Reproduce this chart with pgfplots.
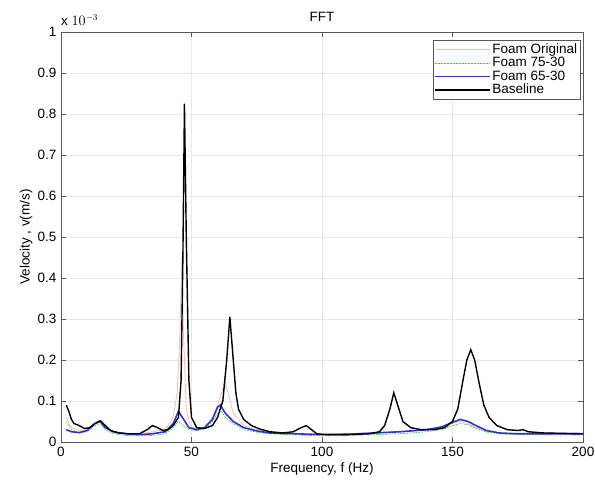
\documentclass[border=0pt]{standalone}
\usepackage{fontspec}
\setmainfont{Liberation Sans}
\usepackage{pgfplots}
\pgfplotsset{compat=1.18}
\definecolor{pinkc}{RGB}{245,190,190}
\definecolor{greenc}{RGB}{60,200,60}
\definecolor{bluec}{RGB}{50,50,200}
\begin{document}
\fontsize{13.5}{15}\selectfont
\begin{tikzpicture}
\begin{axis}[
  scale only axis, width=522pt, height=410pt,
  xmin=0, xmax=200, ymin=0, ymax=1,
  xtick={0,50,100,150,200},
  ytick={0,0.1,0.2,0.3,0.4,0.5,0.6,0.7,0.8,0.9,1},
  yticklabel style={/pgf/number format/fixed,/pgf/number format/precision=1},
  /pgf/number format/assume math mode=true,
  tick align=inside, tick pos=both,
  major tick length=5pt,
  grid=major, grid style={gray!18, line width=0.4pt},
  axis line style={gray!70!black},
  tick style={gray!70!black},
  title={FFT},
  xlabel={Frequency, f (Hz)}, ylabel={Velocity , v(m/s)},
  xlabel style={yshift=3pt},
  ylabel style={yshift=-4pt},
  legend pos=north east,
  legend style={font=\fontsize{13.5}{15}\selectfont, draw=gray!70!black, inner sep=1pt, row sep=-2pt, at={(0.995,0.98)}},
  legend cell align=left,
  legend image post style={xscale=3.2},
]
\addplot[pinkc, line width=0.8pt] coordinates {
(2,0.06)(4,0.035)(7,0.028)(10,0.03)(13,0.045)(15,0.05)(17,0.035)(20,0.025)(25,0.02)(30,0.02)(35,0.025)(40,0.03)(43,0.06)(44.5,0.12)(45.5,0.25)(46.3,0.45)(47,0.25)(48,0.08)(49.5,0.04)(52,0.03)(55,0.035)(58,0.06)(60,0.09)(61.5,0.12)(62.8,0.15)(64,0.12)(66,0.07)(70,0.04)(75,0.03)(80,0.025)(90,0.02)(100,0.018)(110,0.02)(120,0.022)(130,0.025)(140,0.03)(146,0.036)(150,0.045)(153,0.05)(156,0.045)(159,0.035)(163,0.026)(168,0.022)(175,0.02)(200,0.02)};
\addlegendentry{Foam Original}
\addplot[greenc, line width=0.6pt, dash pattern=on 2pt off 1pt] coordinates {
(2,0.05)(4,0.03)(7,0.022)(10,0.025)(13,0.04)(15,0.045)(17,0.03)(20,0.02)(25,0.016)(30,0.015)(35,0.016)(40,0.02)(43,0.035)(45,0.05)(47,0.04)(49,0.03)(52,0.028)(55,0.032)(58,0.05)(60,0.07)(61.5,0.075)(63,0.06)(66,0.045)(70,0.03)(75,0.024)(80,0.02)(90,0.017)(100,0.015)(110,0.016)(120,0.018)(130,0.02)(140,0.025)(146,0.03)(150,0.04)(153,0.045)(156,0.042)(159,0.033)(163,0.024)(168,0.02)(175,0.018)(200,0.017)};
\addlegendentry{Foam 75-30}
\addplot[bluec, line width=1.6pt] coordinates {
(2,0.03)(4,0.025)(7,0.023)(10,0.028)(13,0.045)(15,0.05)(17,0.035)(20,0.025)(25,0.02)(30,0.018)(35,0.02)(40,0.025)(43,0.045)(45,0.075)(47,0.055)(49,0.035)(52,0.03)(55,0.035)(58,0.055)(60,0.085)(61,0.09)(63,0.07)(66,0.05)(70,0.035)(75,0.027)(80,0.022)(90,0.02)(100,0.018)(110,0.019)(120,0.022)(130,0.025)(140,0.03)(146,0.037)(150,0.048)(153,0.055)(156,0.05)(159,0.04)(163,0.028)(168,0.022)(175,0.02)(200,0.02)};
\addlegendentry{Foam 65-30}
\addplot[black, line width=1.4pt] coordinates {
(2,0.09)(3,0.075)(4,0.055)(5,0.045)(7,0.04)(9,0.033)(11,0.035)(13,0.045)(15,0.052)(17,0.04)(19,0.028)(22,0.022)(26,0.02)(30,0.02)(33,0.03)(35,0.04)(37,0.035)(39,0.028)(41,0.03)(43,0.04)(45,0.06)(46,0.15)(46.7,0.45)(47.3,0.825)(48,0.5)(49,0.15)(50,0.06)(52,0.035)(55,0.033)(58,0.04)(60,0.06)(62,0.1)(63.5,0.2)(64.7,0.305)(66,0.2)(67,0.12)(68,0.08)(70,0.055)(73,0.04)(76,0.032)(80,0.025)(85,0.022)(89,0.025)(92,0.035)(94,0.04)(96,0.03)(98,0.02)(102,0.018)(110,0.018)(118,0.02)(122,0.025)(124,0.04)(126,0.08)(127.5,0.12)(129,0.09)(131,0.05)(134,0.035)(138,0.03)(143,0.03)(147,0.035)(150,0.05)(152,0.08)(154,0.15)(155.5,0.2)(157,0.225)(158.5,0.2)(160,0.15)(162,0.09)(164,0.06)(167,0.04)(171,0.03)(175,0.028)(177,0.03)(179,0.025)(185,0.022)(200,0.02)};
\addlegendentry{Baseline}
\end{axis}
\node[anchor=south west, inner sep=0pt] at (0pt,416pt) {x $10^{-3}$};
\pgfresetboundingbox
\path[use as bounding box] (-61pt,-44pt) rectangle (534pt,442pt);
\end{tikzpicture}
\end{document}
